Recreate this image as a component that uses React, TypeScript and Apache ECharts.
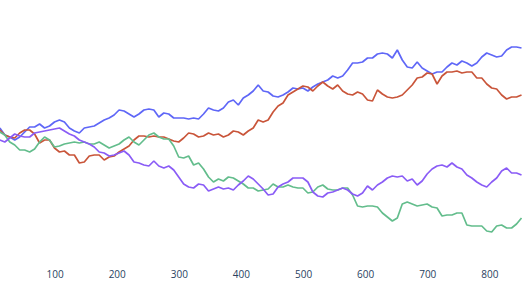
import React, { useEffect, useRef } from "react";
import * as echarts from "echarts";

// Sample grid along the x axis (step index positions where values were read)
const SAMPLE_X: number[] = Array.from({ length: 106 }, (_, i) => 11 + 8 * i);

const TICK_VALUES = [100, 200, 300, 400, 500, 600, 700, 800];

const blueValues = [
  8, 1, -1, -4, -1, 4, 9, 9, 12, 8,
  10, 14, 16, 14, 8, 5, 3, 8, 9, 10,
  13, 16, 18, 21, 26, 25, 22, 19, 22, 26,
  27, 26, 19, 23, 22, 18, 18, 18, 17, 18,
  17, 22, 28, 26, 25, 28, 34, 36, 31, 38,
  41, 45, 51, 45, 44, 40, 39, 41, 44, 48,
  47, 48, 45, 49, 52, 54, 56, 60, 58, 60,
  66, 73, 73, 74, 78, 78, 82, 83, 82, 78,
  86, 76, 69, 68, 74, 68, 65, 62, 64, 64,
  69, 73, 71, 75, 73, 70, 73, 79, 83, 81,
  79, 80, 86, 89, 89, 88,
];

const redValues = [
  6, 1, -1, -2, 3, 6, 6, 2, -7, -4,
  -4, -12, -16, -15, -19, -19, -27, -26, -20, -19,
  -19, -24, -21, -20, -16, -13, -10, -4, 0, 0,
  -1, 0, -1, -1, -3, -5, -6, -2, 3, 2,
  -1, 0, 3, 1, 2, -1, 1, 5, 4, 1,
  5, 8, 16, 14, 16, 24, 30, 33, 41, 44,
  47, 50, 49, 45, 50, 54, 50, 47, 51, 45,
  42, 41, 44, 42, 36, 35, 46, 42, 39, 38,
  39, 41, 46, 51, 58, 59, 63, 62, 52, 60,
  64, 64, 65, 63, 64, 64, 58, 58, 52, 48,
  47, 41, 37, 39, 39, 41,
];

const greenValues = [
  4, 1, -6, -9, -14, -14, -16, -13, -6, -1,
  -4, -11, -10, -8, -7, -6, -7, -6, -8, -8,
  -6, -9, -12, -10, -8, -4, -1, -6, -9, -4,
  1, 3, -1, -3, -3, -10, -21, -22, -20, -29,
  -27, -33, -41, -46, -43, -45, -41, -42, -45, -48,
  -52, -52, -55, -54, -53, -48, -51, -51, -49, -51,
  -52, -52, -57, -56, -51, -49, -53, -54, -54, -52,
  -52, -59, -70, -71, -70, -70, -71, -77, -81, -85,
  -82, -68, -66, -68, -70, -69, -68, -71, -72, -80,
  -79, -79, -77, -77, -89, -90, -90, -90, -95, -96,
  -90, -89, -92, -92, -88, -82,
];

const purpleValues = [
  -4, -6, -2, 2, 0, -1, -1, 3, 4, 5,
  6, 7, 8, 5, 2, 0, -4, -6, -8, -11,
  -16, -17, -20, -19, -17, -15, -19, -26, -27, -29,
  -30, -25, -30, -32, -30, -34, -41, -48, -51, -52,
  -48, -49, -55, -53, -51, -53, -52, -54, -49, -45,
  -40, -43, -48, -53, -59, -58, -51, -48, -46, -42,
  -42, -42, -46, -56, -60, -61, -57, -56, -54, -52,
  -54, -58, -60, -57, -50, -54, -49, -46, -42, -40,
  -41, -40, -45, -43, -49, -45, -38, -33, -30, -29,
  -31, -27, -31, -33, -39, -42, -46, -49, -51, -46,
  -42, -35, -32, -37, -37, -39,
];

const SERIES = [
  { name: "trace 0", color: "#5f67f7", values: blueValues },
  { name: "trace 1", color: "#c9553a", values: redValues },
  { name: "trace 2", color: "#63bd8c", values: greenValues },
  { name: "trace 3", color: "#8a5cf6", values: purpleValues },
];

export default function App() {
  const ref = useRef<HTMLDivElement>(null);

  useEffect(() => {
    if (!ref.current) return;
    const chart = echarts.init(ref.current, null, { renderer: "svg" });
    chart.setOption({
      animation: false,
      backgroundColor: "#ffffff",
      grid: { left: 0, right: 0, top: 10, bottom: 22, containLabel: false },
      xAxis: {
        type: "value",
        min: 0,
        max: 855,
        interval: 100,
        axisLine: { show: false },
        axisTick: { show: false },
        splitLine: { show: false },
        axisLabel: {
          show: true,
          margin: 8,
          color: "#2a3f5f",
          fontFamily: "Open Sans",
          fontSize: 10,
          showMinLabel: false,
          showMaxLabel: false,
          formatter: (v: number) => (TICK_VALUES.includes(v) ? String(v) : ""),
        },
      },
      yAxis: {
        type: "value",
        min: -125,
        max: 126,
        show: false,
        splitLine: { show: false },
      },
      series: SERIES.map((s) => ({
        name: s.name,
        type: "line",
        data: SAMPLE_X.map((x, i) => [x, s.values[i]]),
        showSymbol: false,
        symbol: "none",
        lineStyle: { color: s.color, width: 1.7 },
        itemStyle: { color: s.color },
        clip: true,
      })),
    });
    return () => chart.dispose();
  }, []);

  return (
    <div
      ref={ref}
      style={{
        position: "fixed",
        left: -7,
        top: 0,
        width: 531,
        height: 283,
        background: "#ffffff",
      }}
    />
  );
}
